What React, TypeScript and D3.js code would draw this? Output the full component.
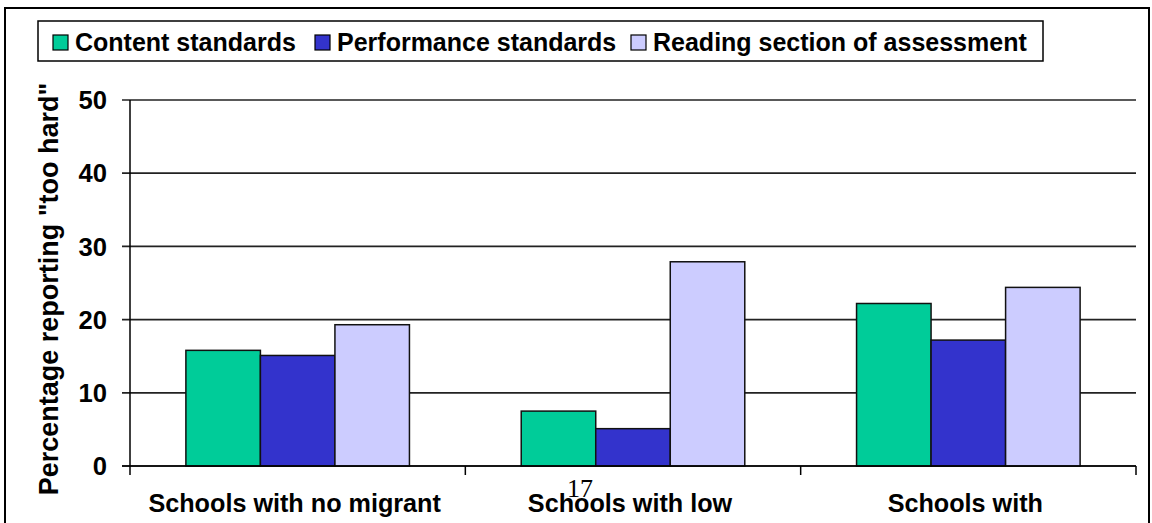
import React from "react";
import * as d3 from "d3";

// chart values
const categories = ["Schools with no migrant", "Schools with low", "Schools with"];
const seriesNames = ["Content standards", "Performance standards", "Reading section of assessment"];
const contentValues = [15.8, 7.5, 22.2];
const performanceValues = [15.1, 5.1, 17.2];
const readingValues = [19.3, 27.9, 24.4];
const yTicks = [0, 10, 20, 30, 40, 50];
const colors = ["#00CC99", "#3333CC", "#CCCCFF"];

const W = 1152;
const H = 523;
const plot = { left: 130, right: 1136, top: 100, bottom: 466 };
const FONT = "'Liberation Sans', Arial, sans-serif";

const App: React.FC = () => {
  const series = [contentValues, performanceValues, readingValues];

  const y = d3.scaleLinear().domain([0, 50]).range([plot.bottom, plot.top]);
  const x0 = d3.scaleBand<string>().domain(categories).range([plot.left, plot.right]).paddingInner(0).paddingOuter(0);
  const x1 = d3.scaleBand<string>().domain(seriesNames).range([0, x0.bandwidth()]).paddingInner(0).paddingOuter(0.75);

  // legend layout
  const legendX = [53, 315, 631];

  return (
    <svg width={W} height={H} style={{ position: "absolute", left: 0, top: 0, background: "#fff" }} fontFamily={FONT}>
      {/* outer frame */}
      <rect x={5} y={8} width={1144} height={530} fill="none" stroke="#000" strokeWidth={2} />

      {/* legend */}
      <rect x={38} y={21} width={1005} height={40} fill="#fff" stroke="#000" strokeWidth={1.5} />
      {seriesNames.map((s, i) => (
        <g key={s}>
          <rect x={legendX[i]} y={35} width={15} height={15} fill={colors[i]} stroke="#000" strokeWidth={1.2} />
          <text x={legendX[i] + 22} y={51} fontSize={25} fontWeight="bold" fill="#000">{s}</text>
        </g>
      ))}

      {/* gridlines */}
      {yTicks.map((t) => (
        <line key={"g" + t} x1={plot.left - 8} x2={plot.right} y1={y(t)} y2={y(t)} stroke="#222" strokeWidth={1.7} />
      ))}
      {yTicks.map((t) => (
        <text key={"t" + t} x={107} y={y(t)} dy="0.36em" textAnchor="end" fontSize={25.6} fontWeight="bold" fill="#000">{t}</text>
      ))}

      {/* bars */}
      {categories.map((c, ci) => (
        <g key={c} transform={`translate(${x0(c)},0)`}>
          {seriesNames.map((s, si) => {
            const v = series[si][ci];
            return (
              <rect key={s} x={x1(s)} y={y(v)} width={x1.bandwidth()} height={y(0) - y(v)}
                fill={colors[si]} stroke="#111" strokeWidth={1.5} />
            );
          })}
        </g>
      ))}

      {/* axes */}
      <line x1={plot.left} x2={plot.left} y1={plot.top} y2={plot.bottom + 9} stroke="#000" strokeWidth={1.5} />
      <line x1={plot.left - 8} x2={plot.right} y1={plot.bottom} y2={plot.bottom} stroke="#000" strokeWidth={1.7} />
      {categories.map((c) => (
        <line key={"ct" + c} x1={(x0(c) as number) + x0.bandwidth()} x2={(x0(c) as number) + x0.bandwidth()}
          y1={plot.bottom} y2={plot.bottom + 9} stroke="#000" strokeWidth={1.5} />
      ))}
      {categories.map((c) => (
        <text key={"cl" + c} x={(x0(c) as number) + x0.bandwidth() / 2 - 3} y={512} textAnchor="middle"
          fontSize={25.2} fontWeight="bold" fill="#000">{c}</text>
      ))}

      {/* y axis title */}
      <text transform={`translate(58,289) rotate(-90)`} textAnchor="middle"
        fontSize={27} fontWeight="bold" fill="#000">Percentage reporting "too hard"</text>

      {/* page number */}
      <text x={580} y={497} textAnchor="middle" fontSize={26} fontFamily="'Liberation Serif', 'Times New Roman', serif" fill="#000">17</text>
    </svg>
  );
};

export default App;
